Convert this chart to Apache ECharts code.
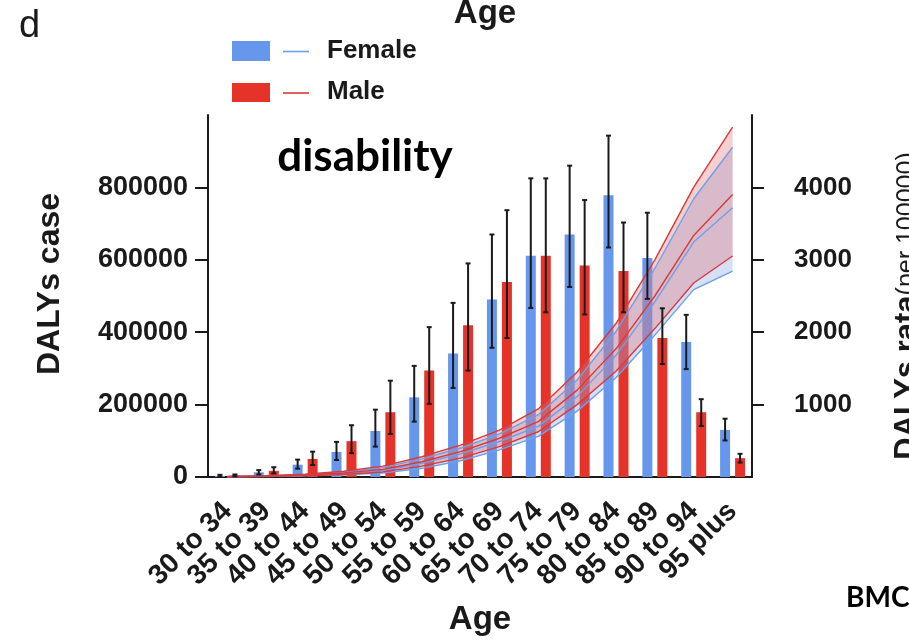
<!DOCTYPE html>
<html><head><meta charset="utf-8">
<script src="https://cdn.jsdelivr.net/npm/echarts@6/dist/echarts.min.js"></script>
<style>html,body{margin:0;padding:0;background:#fff}#c{width:909px;height:642px}</style>
</head><body><div id="c"></div>
<script>
// ---------- data ----------
const categories = ['30 to 34','35 to 39','40 to 44','45 to 49','50 to 54','55 to 59','60 to 64','65 to 69','70 to 74','75 to 79','80 to 84','85 to 89','90 to 94','95 plus'];
// DALYs case (left axis)
const femaleCase = [3000, 13000, 34000, 69000, 127000, 220000, 341000, 490000, 611000, 670000, 778000, 605000, 373000, 130000];
const femaleCaseHigh = [6000, 19000, 48000, 97000, 186000, 307000, 481000, 670000, 825000, 860000, 943000, 730000, 448000, 161000];
const femaleCaseLow = [1000, 7000, 23000, 47000, 84000, 153000, 246000, 357000, 467000, 525000, 634000, 492000, 298000, 101000];
const maleCase = [4000, 17000, 50000, 99000, 179000, 294000, 419000, 539000, 611000, 584000, 569000, 384000, 179000, 52000];
const maleCaseHigh = [7000, 27000, 70000, 143000, 266000, 414000, 590000, 737000, 825000, 765000, 703000, 466000, 215000, 64000];
const maleCaseLow = [2000, 10000, 33000, 66000, 119000, 202000, 294000, 384000, 455000, 449000, 455000, 312000, 141000, 40000];
// DALYs rate per 100000 (right axis)
const femaleRate = [4, 10, 24, 48, 90, 190, 320, 490, 700, 1110, 1680, 2420, 3245, 3719];
const femaleRateUpper = [6, 15, 35, 70, 130, 250, 400, 595, 860, 1340, 2010, 2880, 3843, 4555];
const femaleRateLower = [3, 7, 15, 30, 55, 120, 225, 375, 560, 910, 1370, 1960, 2588, 2845];
const maleRate = [5, 12, 28, 55, 105, 210, 350, 535, 765, 1200, 1770, 2500, 3337, 3903];
const maleRateUpper = [7, 18, 40, 80, 150, 280, 441, 648, 940, 1450, 2120, 3000, 4003, 4831];
const maleRateLower = [3, 8, 18, 35, 70, 150, 260, 420, 625, 1000, 1460, 2050, 2679, 3052];
// tick labels
const leftTicks = [0, 200000, 400000, 600000, 800000];
const rightTicks = [1000, 2000, 3000, 4000];

// ---------- styles ----------
const FEMALE = '#6697EC', MALE = '#E63329';
const FEMALE_LINE = '#6F9FE6', MALE_LINE = '#D83A3C';
const INK = '#1a1a1a';
const BAR_W = 10, BAR_GAP = 0.5;
const OFFSET = (BAR_W + BAR_W * BAR_GAP) / 2;
const CAP_W = 5;
const FONT = '"Liberation Sans", Arial, sans-serif';
const plain = v => String(v);

function errSeries(lows, highs, sign) {
  return {
    type: 'custom', yAxisIndex: 0, z: 6, silent: true,
    data: lows.map((l, i) => [i, l, highs[i]]),
    encode: { x: 0, y: [1, 2] },
    renderItem(params, api) {
      const i = api.value(0);
      const lo = api.coord([i, api.value(1)]);
      const hi = api.coord([i, api.value(2)]);
      const x = lo[0] + sign * OFFSET;
      const c = CAP_W / 2;
      const st = { stroke: INK, lineWidth: 2 };
      return { type: 'group', children: [
        { type: 'line', shape: { x1: x, y1: lo[1], x2: x, y2: hi[1] }, style: st },
        { type: 'line', shape: { x1: x - c, y1: hi[1], x2: x + c, y2: hi[1] }, style: st },
        { type: 'line', shape: { x1: x - c, y1: lo[1], x2: x + c, y2: lo[1] }, style: st }
      ] };
    }
  };
}
function band(stack, lower, upper, color) {
  return [
    { type: 'line', yAxisIndex: 1, stack, data: lower, symbol: 'none', silent: true, z: 4, lineStyle: { opacity: 0 } },
    { type: 'line', yAxisIndex: 1, stack, data: upper.map((u, i) => u - lower[i]), symbol: 'none', silent: true, z: 4,
      lineStyle: { opacity: 0 }, areaStyle: { color, opacity: 1 } }
  ];
}
function rateLine(data, color) {
  return { type: 'line', yAxisIndex: 1, data, symbol: 'none', z: 5, silent: true, lineStyle: { color, width: 1.4 } };
}

const chart = echarts.init(document.getElementById('c'));
chart.setOption({
  animation: false,
  backgroundColor: '#fff',
  grid: { left: 208, right: 157, top: 115, bottom: 165, containLabel: false, outerBoundsMode: 'none' },
  xAxis: {
    type: 'category', data: categories, boundaryGap: true,
    axisLine: { lineStyle: { color: INK, width: 2 } },
    axisTick: { alignWithLabel: true, length: 10, lineStyle: { color: INK, width: 2 } },
    axisLabel: { rotate: 45, interval: 0, margin: 30, color: INK, fontSize: 28, fontWeight: 'bold', fontFamily: FONT, align: 'right', verticalAlign: 'middle' },
    name: 'Age', nameLocation: 'middle', nameGap: 126,
    nameTextStyle: { color: INK, fontSize: 33, fontWeight: 'bold', fontFamily: FONT }
  },
  yAxis: [{
    type: 'value', min: 0, max: 1000000, interval: 200000, position: 'left',
    axisLine: { show: true, lineStyle: { color: INK, width: 2 } },
    axisTick: { show: true, length: 13, customValues: leftTicks, lineStyle: { color: INK, width: 2 } },
    axisLabel: { customValues: leftTicks, formatter: plain, margin: 20, color: INK, fontSize: 27, fontWeight: 'bold', fontFamily: FONT },
    splitLine: { show: false },
    name: 'DALYs case', nameLocation: 'middle', nameGap: 142, nameRotate: 90,
    nameTextStyle: { color: INK, fontSize: 32, fontWeight: 'bold', fontFamily: FONT, padding: [0, 0, 0, 24] }
  }, {
    type: 'value', min: 0, max: 5000, interval: 1000, position: 'right',
    axisLine: { show: true, lineStyle: { color: INK, width: 2 } },
    axisTick: { show: true, length: 12, customValues: rightTicks, lineStyle: { color: INK, width: 2 } },
    axisLabel: { customValues: rightTicks, formatter: plain, margin: 42, color: INK, fontSize: 26, fontWeight: 'bold', fontFamily: FONT },
    splitLine: { show: false },
    name: '{a|DALYs rata}{b|(per 100000)}', nameLocation: 'middle', nameGap: 140, nameRotate: 90,
    nameTextStyle: { color: INK, fontFamily: FONT, padding: [0, 20, 0, 0],
      rich: { a: { fontSize: 31, fontWeight: 'bold', fontFamily: FONT, color: INK },
              b: { fontSize: 25, fontFamily: FONT, color: INK } } }
  }],
  series: [
    { type: 'bar', name: 'Female', data: femaleCase, yAxisIndex: 0, barWidth: BAR_W, barGap: (BAR_GAP * 100) + '%', itemStyle: { color: FEMALE }, z: 2 },
    { type: 'bar', name: 'Male', data: maleCase, yAxisIndex: 0, barWidth: BAR_W, itemStyle: { color: MALE }, z: 2 },
    errSeries(femaleCaseLow, femaleCaseHigh, -1),
    errSeries(maleCaseLow, maleCaseHigh, 1),
    ...band('fBand', femaleRateLower, femaleRateUpper, 'rgba(120,160,232,0.32)'),
    ...band('mBand', maleRateLower, maleRateUpper, 'rgba(228,110,110,0.33)'),
    rateLine(femaleRateUpper, FEMALE_LINE), rateLine(femaleRate, FEMALE_LINE), rateLine(femaleRateLower, FEMALE_LINE),
    rateLine(maleRateUpper, MALE_LINE), rateLine(maleRate, MALE_LINE), rateLine(maleRateLower, MALE_LINE)
  ],
  graphic: [
    { type: 'text', left: 19, top: 8, style: { text: 'd', font: '38px ' + FONT, fill: INK } },
    { type: 'text', x: 485, y: 14, style: { text: 'Age', font: 'bold 33px ' + FONT, fill: INK, align: 'center', verticalAlign: 'middle' } },
    { type: 'rect', shape: { x: 232, y: 41, width: 38, height: 20 }, style: { fill: FEMALE } },
    { type: 'line', shape: { x1: 283, y1: 51.5, x2: 309, y2: 51.5 }, style: { stroke: FEMALE_LINE, lineWidth: 1.6 } },
    { type: 'text', x: 327, y: 51, style: { text: 'Female', font: 'bold 26px ' + FONT, fill: INK, verticalAlign: 'middle' } },
    { type: 'rect', shape: { x: 232, y: 83, width: 38, height: 19 }, style: { fill: MALE } },
    { type: 'line', shape: { x1: 283, y1: 93, x2: 309, y2: 93 }, style: { stroke: MALE_LINE, lineWidth: 1.6 } },
    { type: 'text', x: 327, y: 92, style: { text: 'Male', font: 'bold 26px ' + FONT, fill: INK, verticalAlign: 'middle' } },
    { type: 'text', x: 365, y: 157, style: { text: 'disability', font: 'bold 44px Lato, "Open Sans", sans-serif', fill: '#000', align: 'center', verticalAlign: 'middle' } },
    { type: 'text', x: 846, y: 598, style: { text: 'BMC', font: 'bold 28px Lato, "Open Sans", sans-serif', fill: '#000', verticalAlign: 'middle' } }
  ]
});
</script></body></html>
